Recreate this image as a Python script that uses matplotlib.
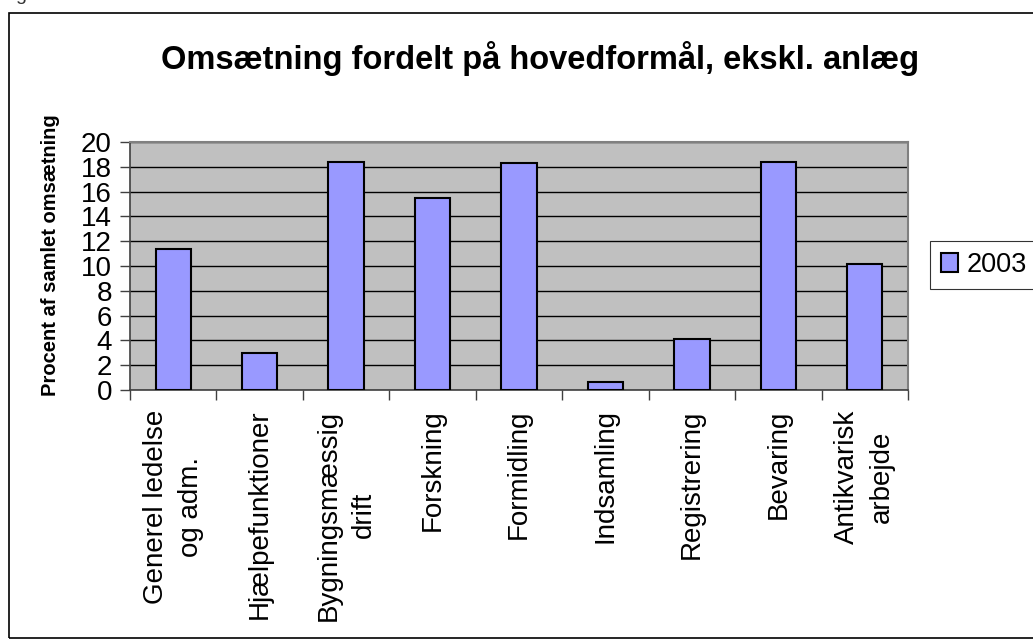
import matplotlib.pyplot as plt
import numpy as np
from matplotlib.patches import Rectangle

categories = ["Generel ledelse\nog adm.", "Hjælpefunktioner", "Bygningsmæssig\ndrift",
              "Forskning", "Formidling", "Indsamling", "Registrering", "Bevaring",
              "Antikvarisk\narbejde"]
values_2003 = [11.4, 3.0, 18.4, 15.5, 18.3, 0.65, 4.15, 18.4, 10.2]
yticks = [0, 2, 4, 6, 8, 10, 12, 14, 16, 18, 20]

plt.rcParams['font.family'] = ['Liberation Sans', 'DejaVu Sans']

fig = plt.figure(figsize=(10.33, 6.39), dpi=100)
ax = fig.add_axes([130 / 1033, 1 - 390 / 639, 778 / 1033, 248 / 639])

# outer chart border
fig.patches.append(Rectangle((9 / 1033, 0.002), 1.5, 1 - 12.5 / 639 - 0.002,
                             transform=fig.transFigure, fill=False,
                             edgecolor='black', linewidth=1.2))

x = np.arange(len(categories))
ax.bar(x, values_2003, width=0.41, color='#9999FF', edgecolor='black',
       linewidth=1.5, label='2003', zorder=3)

ax.set_facecolor('#C0C0C0')
ax.set_xlim(-0.5, len(categories) - 0.5)
ax.set_ylim(0, 20)
ax.set_yticks(yticks)
ax.set_yticklabels([str(t) for t in yticks], fontsize=20)
ax.yaxis.grid(True, color='black', linewidth=1.0, zorder=0)
ax.set_axisbelow(True)

# category ticks sit between bars, labels centred on the bars
ax.set_xticks(np.arange(len(categories) + 1) - 0.5)
ax.set_xticklabels([])
ax.set_xticks(x, minor=True)
ax.set_xticklabels(categories, minor=True, rotation=90, fontsize=20,
                   ha='center', va='top', multialignment='center',
                   linespacing=1.45)
ax.tick_params(axis='x', which='minor', length=0, pad=14)
ax.tick_params(axis='x', which='major', length=7, width=1, color='#404040', direction='out')
ax.tick_params(axis='y', length=7, width=1, color='#404040', direction='out', pad=6)

for side in ['top', 'right']:
    ax.spines[side].set_color('#808080')
    ax.spines[side].set_linewidth(1.5)
for side in ['left', 'bottom']:
    ax.spines[side].set_color('#404040')
    ax.spines[side].set_linewidth(1.2)

ax.set_ylabel("Procent af samlet omsætning", fontsize=14.5, fontweight='bold')
ax.yaxis.set_label_coords(-0.09, 0.545)
fig.text(540 / 1033, 1 - 58 / 639, "Omsætning fordelt på hovedformål, ekskl. anlæg",
         ha='center', va='center', fontsize=23.5, fontweight='bold')

leg = ax.legend(loc='center left', bbox_to_anchor=(930 / 1033, 1 - 265 / 639),
                bbox_transform=fig.transFigure, fontsize=19.5, frameon=True,
                fancybox=False, edgecolor='black', handlelength=0.65,
                handleheight=0.65, handletextpad=0.3, borderpad=0.4,
                borderaxespad=0)
leg.get_frame().set_linewidth(0.8)

fig.text(21 / 1033, 1 + 4 / 639, "g", ha='center', va='center', fontsize=14, color='#333333')

fig.savefig("out.png", dpi=100)
